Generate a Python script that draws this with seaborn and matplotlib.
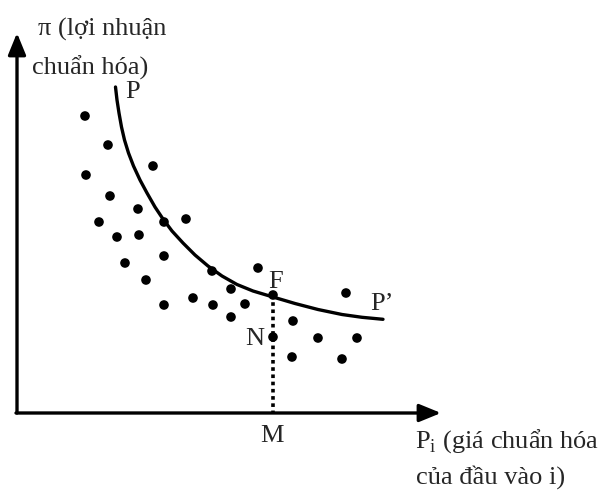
import matplotlib
matplotlib.use("Agg")
import matplotlib.pyplot as plt
import seaborn as sns
import pandas as pd

sns.set_theme(style="white")
plt.rcParams["font.family"] = ["Liberation Serif", "DejaVu Serif"]
plt.rcParams["mathtext.fontset"] = "custom"
plt.rcParams["mathtext.rm"] = "Liberation Serif"

# ── data (arbitrary units, origin at the axes corner) ──
dot_x = [6.8, 9.1, 13.6, 6.9, 9.3, 12.1, 8.2, 14.7, 16.9, 10.0,
         12.2, 14.7, 10.8, 19.5, 24.1, 12.9, 21.4, 25.6, 14.7, 17.6,
         19.6, 22.8, 21.4, 27.6, 32.9, 25.6, 30.1, 34.0, 27.5, 32.5]
dot_y = [29.7, 26.8, 24.7, 23.8, 21.7, 20.4, 19.1, 19.1, 19.4, 17.6,
         17.8, 15.7, 15.0, 14.2, 14.5, 13.3, 12.4, 11.8, 10.8, 11.5,
         10.8, 10.9, 9.6, 9.2, 12.0, 7.6, 7.5, 7.5, 5.6, 5.4]

# P-P' curve, traced point by point
curve_x = [9.85, 10.0, 10.2, 10.45, 10.75, 11.15, 11.65, 12.3, 13.0, 13.8,
           14.6, 15.5, 16.6, 17.8, 19.1, 20.5, 22.0, 23.6, 25.6, 27.8,
           30.1, 32.5, 34.5, 36.6]
curve_y = [32.6, 31.3, 30.0, 28.6, 27.3, 26.0, 24.7, 23.3, 22.0, 20.6,
           19.4, 18.2, 17.0, 15.8, 14.7, 13.7, 12.85, 12.2, 11.6, 10.95,
           10.35, 9.85, 9.57, 9.37]

point_F = (25.6, 11.8)

dots = pd.DataFrame({"x": dot_x, "y": dot_y})
curve = pd.DataFrame({"x": curve_x, "y": curve_y})

fig = plt.figure(figsize=(6.08, 4.93), dpi=100)
ax = fig.add_axes([0, 0, 1, 1])
ax.set_xlim(-1.7, 59.1)
ax.set_ylim(-8.0, 41.3)
ax.axis("off")

# axes with arrow heads
arrow = dict(arrowstyle="-|>,head_length=1.1,head_width=0.45",
             color="black", lw=2.4, shrinkA=0, shrinkB=0)
ax.annotate("", xy=(0, 38.0), xytext=(0, 0), arrowprops=arrow)
ax.annotate("", xy=(42.4, 0), xytext=(-0.1, 0), arrowprops=arrow)

# P-P' frontier
sns.lineplot(data=curve, x="x", y="y", sort=False, color="black",
             linewidth=2.4, ax=ax, legend=False)

# F-M dotted drop line
ax.plot([point_F[0], point_F[0]], [point_F[1], 0], color="black",
        linewidth=2.6, linestyle=(0, (1, 1)))

# observations
sns.scatterplot(data=dots, x="x", y="y", color="black", s=48,
                edgecolor="none", ax=ax, legend=False, zorder=3)

fs = 19
ax.text(2.1, 37.7, "π (lợi nhuận", fontsize=fs, va="baseline")
ax.text(1.5, 33.8, "chuẩn hóa)", fontsize=fs, va="baseline")
ax.text(10.8, 31.5, "P", fontsize=fs, va="baseline")
ax.text(25.1, 12.5, "F", fontsize=fs, va="baseline")
ax.text(22.8, 6.8, "N", fontsize=fs, va="baseline")
ax.text(35.3, 10.3, "P’", fontsize=fs, va="baseline")
ax.text(24.3, -2.9, "M", fontsize=fs, va="baseline")
ax.text(39.8, -3.5, r"P$_\mathrm{i}$ (giá chuẩn hóa", fontsize=fs,
        va="baseline")
ax.text(39.9, -7.1, "của đầu vào i)", fontsize=fs, va="baseline")

fig.savefig("out.png", dpi=100)
